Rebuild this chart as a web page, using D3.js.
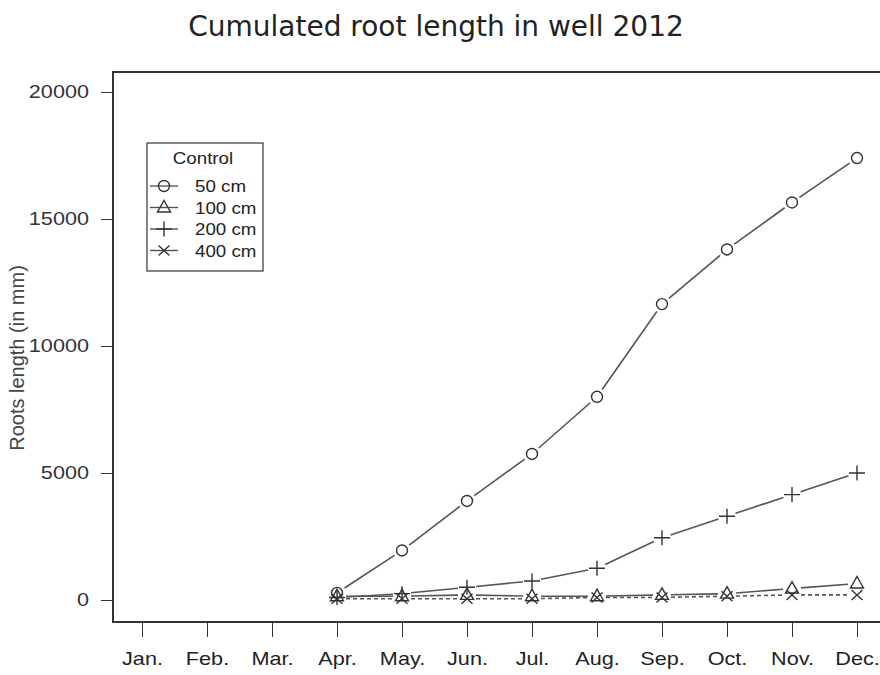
<!DOCTYPE html>
<html><head><meta charset="utf-8">
<script src="https://cdn.jsdelivr.net/npm/d3@7"></script>
<style>body{margin:0;background:#fff}svg{display:block}</style>
</head><body><svg id="c" width="880" height="675"></svg>
<script>
const months = ["Jan.","Feb.","Mar.","Apr.","May.","Jun.","Jul.","Aug.","Sep.","Oct.","Nov.","Dec."];
const dataMonths = ["Apr.","May.","Jun.","Jul.","Aug.","Sep.","Oct.","Nov.","Dec."];
const s50  = [280, 1950, 3900, 5750, 8000, 11650, 13800, 15650, 17400];
const s100 = [150, 150, 200, 150, 150, 200, 250, 450, 650];
const s200 = [100, 250, 500, 750, 1250, 2450, 3300, 4150, 5000];
const s400 = [50, 50, 50, 50, 100, 100, 150, 200, 200];
const yTicks = [0, 5000, 10000, 15000, 20000];
const seriesNames = ["50 cm","100 cm","200 cm","400 cm"];
const seriesSymbols = ["circle","triangle","plus","cross"];
const seriesDash = [null, null, null, "4,3"];
const seriesVals = [s50, s100, s200, s400];

const svg = d3.select("#c");
const x = d3.scalePoint().domain(months).range([142, 857]);
const y = d3.scaleLinear().domain([0, 20000]).range([600, 92]);
const ink = "#333";
const lineCol = "#555";
const SX = 1.17;
function stretch(sel, f) {
  sel.each(function(){
    const w = this.getComputedTextLength();
    d3.select(this).attr("textLength", w*f).attr("lengthAdjust","spacingAndGlyphs");
  });
}

// title
svg.append("text").attr("x", 436).attr("y", 36).attr("text-anchor","middle")
  .attr("font-family","DejaVu Sans").attr("font-size", 28).attr("fill","#222")
  .text("Cumulated root length in well 2012");

// plot box
svg.append("rect").attr("x",113).attr("y",72).attr("width",780).attr("height",550)
  .attr("fill","none").attr("stroke",ink).attr("stroke-width",2);

// axes
const yAxis = d3.axisLeft(y).tickValues(yTicks).tickSize(12).tickPadding(12).tickFormat(d3.format("d"));
const gy = svg.append("g").attr("transform","translate(113,0)").call(yAxis);
gy.select(".domain").remove();
gy.selectAll("line").attr("stroke",ink);
gy.selectAll("text").attr("font-family","Liberation Sans").attr("font-size",18.5).attr("fill","#333")
  .call(stretch, SX);

const xAxis = d3.axisBottom(x).tickSize(15).tickPadding(15);
const gx = svg.append("g").attr("transform","translate(0,622)").call(xAxis);
gx.select(".domain").remove();
gx.selectAll("line").attr("stroke",ink);
gx.selectAll("text").attr("font-family","Liberation Sans").attr("font-size",18.5).attr("fill","#222")
  .call(stretch, SX);

svg.append("text").attr("transform","translate(24,358) rotate(-90)").attr("text-anchor","middle")
  .attr("font-family","Liberation Sans").attr("font-size",20).attr("fill","#444")
  .text("Roots length (in mm)");

function symbol(g, type, cx, cy) {
  const s = g.append("g").attr("transform",`translate(${cx},${cy})`)
    .attr("fill","none").attr("stroke",ink).attr("stroke-width",1.4);
  if (type==="circle") s.append("circle").attr("r",5.5);
  else if (type==="triangle") s.append("path").attr("d","M0,-7L6.5,4.5L-6.5,4.5Z");
  else if (type==="plus") s.append("path").attr("d","M-8,0H8M0,-7.5V7.5");
  else if (type==="cross") s.append("path").attr("d","M-5.5,-5L5.5,5M-5.5,5L5.5,-5");
}

const gap = 9;
seriesVals.forEach((vals, i) => {
  const g = svg.append("g");
  const pts = vals.map((v, j) => [x(dataMonths[j]), y(v)]);
  for (let j = 0; j < pts.length - 1; j++) {
    const [x0,y0] = pts[j], [x1,y1] = pts[j+1];
    const dx = x1-x0, dy = y1-y0, L = Math.hypot(dx,dy);
    if (L <= 2*gap) continue;
    const ux = dx/L, uy = dy/L;
    g.append("line").attr("x1",x0+ux*gap).attr("y1",y0+uy*gap)
      .attr("x2",x1-ux*gap).attr("y2",y1-uy*gap)
      .attr("stroke",lineCol).attr("stroke-width",1.6)
      .attr("stroke-dasharray",seriesDash[i]);
  }
  pts.forEach(p => symbol(g, seriesSymbols[i], p[0], p[1]));
});

// legend
const lg = svg.append("g");
lg.append("rect").attr("x",147).attr("y",143).attr("width",116).attr("height",128)
  .attr("fill","#fff").attr("stroke",ink).attr("stroke-width",1.2);
lg.append("text").attr("x",203).attr("y",164).attr("text-anchor","middle")
  .attr("font-family","Liberation Sans").attr("font-size",16).attr("fill","#222").text("Control")
  .call(stretch, SX);
seriesNames.forEach((n, i) => {
  const yy = 186 + i*21.5;
  lg.append("line").attr("x1",150).attr("x2",178).attr("y1",yy).attr("y2",yy)
    .attr("stroke",lineCol).attr("stroke-width",1.4);
  symbol(lg, seriesSymbols[i], 164, yy);
  lg.append("text").attr("x",195).attr("y",yy+6).attr("font-family","Liberation Sans")
    .attr("font-size",16).attr("fill","#222").text(n).call(stretch, SX);
});
</script></body></html>
